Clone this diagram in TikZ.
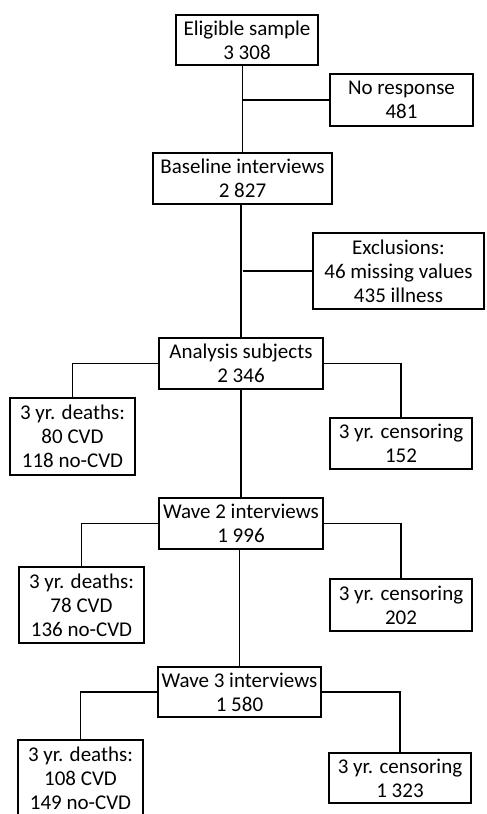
\documentclass[tikz,border=0pt]{standalone}
\usepackage{fontspec}
\setmainfont{Carlito}
\begin{document}
\begin{tikzpicture}[x=1pt,y=-1pt,line width=1.3pt,
 box/.style={draw,rectangle,inner sep=0pt,align=center,font=\fontsize{21}{24}\selectfont}]
 \useasboundingbox (0,0) rectangle (487,814);
 % main column
 \node[box,minimum width=142,minimum height=50] (elig) at (247,40) {Eligible sample\\3 308};
 \node[box,minimum width=179,minimum height=51] (base) at (242.5,178.5) {Baseline interviews\\2 827};
 \node[box,minimum width=164,minimum height=51] (anal) at (241,363.5) {Analysis subjects\\2 346};
 \node[box,minimum width=164,minimum height=51] (wave2) at (241,523.5) {Wave 2 interviews\\1 996};
 \node[box,minimum width=163,minimum height=50] (wave3) at (239.5,692) {Wave 3 interviews\\1 580};
 % losses
 \node[box,minimum width=143,minimum height=52] (noresp) at (401.5,100) {No response\\481};
 \node[box,minimum width=171,minimum height=76] (excl) at (398.5,271) {Exclusions:\\46 missing values\\435 illness};
 \node[box,minimum width=125,minimum height=77] (death1) at (72.5,436.5) {3 yr. deaths:\\80 CVD\\118 no-CVD};
 \node[box,minimum width=142,minimum height=51] (cens1) at (401,443.5) {3 yr. censoring\\152};
 \node[box,minimum width=125,minimum height=76] (death2) at (81.5,605) {3 yr. deaths:\\78 CVD\\136 no-CVD};
 \node[box,minimum width=142,minimum height=52] (cens2) at (401,605) {3 yr. censoring\\202};
 \node[box,minimum width=125,minimum height=77] (death3) at (80.5,778.5) {3 yr. deaths:\\108 CVD\\149 no-CVD};
 \node[box,minimum width=142,minimum height=50] (cens3) at (400,778) {3 yr. censoring\\1 323};
 % connectors
 \draw (base.north) -- (base.north |- elig.south);
 \draw (noresp.west) -- (noresp.west -| base.north);
 \draw (anal.north) -- (anal.north |- base.south);
 \draw (excl.west) -- (excl.west -| base.south);
 \draw (anal.west) -| (death1.north);
 \draw (anal.east) -| (cens1.north);
 \draw (anal.south) -- (wave2.north);
 \draw (wave2.west) -| (death2.north);
 \draw (wave2.east) -| (cens2.north);
 \draw (wave3.north) -- (wave3.north |- wave2.south);
 \draw (wave3.west) -| (death3.north);
 \draw (wave3.east) -| (cens3.north);
\end{tikzpicture}
\end{document}
